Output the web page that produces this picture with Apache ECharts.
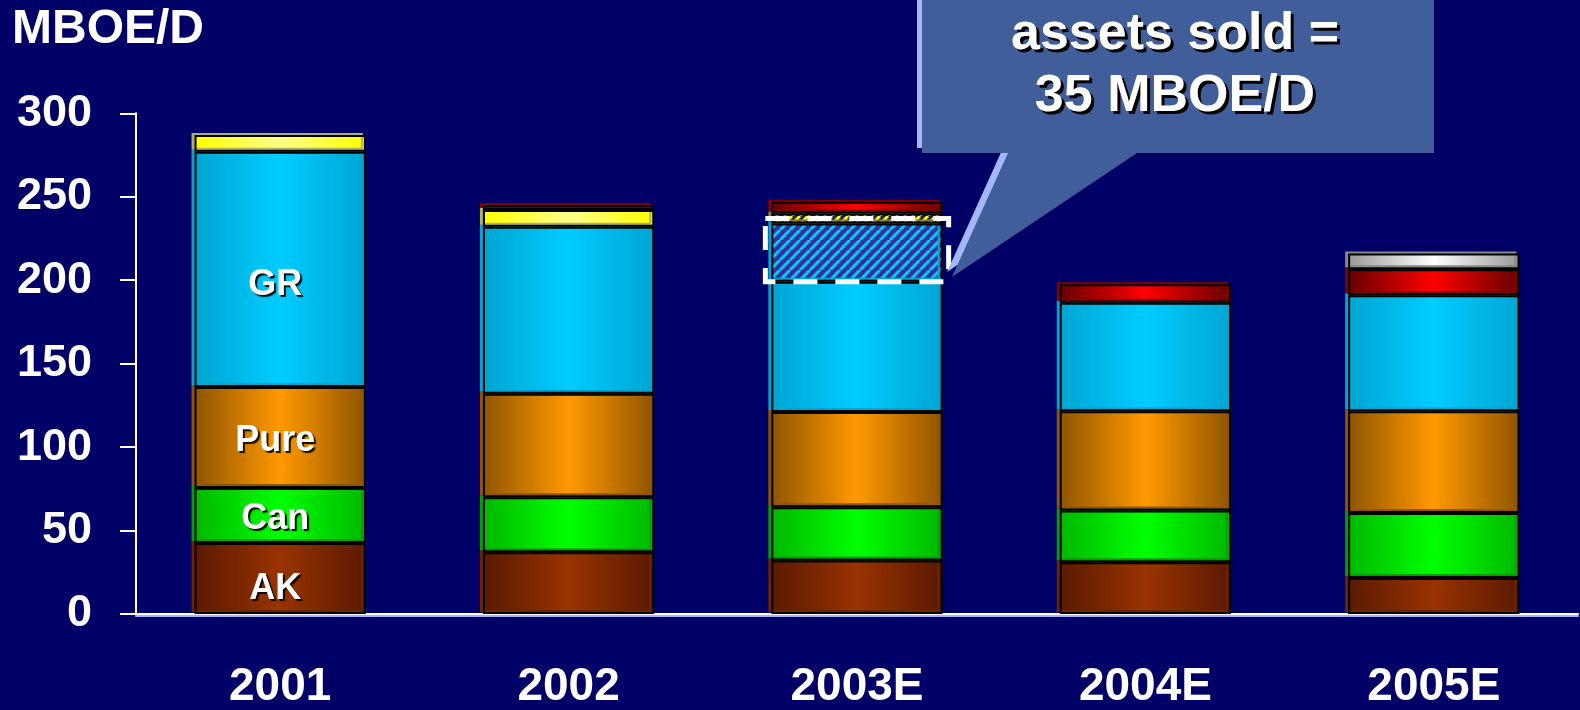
<!DOCTYPE html>
<html>
<head>
<meta charset="utf-8">
<script src="https://cdn.jsdelivr.net/npm/echarts@6/dist/echarts.min.js"></script>
<style>
  html, body { margin: 0; padding: 0; background: #000066; }
  #chart { width: 1580px; height: 710px; }
</style>
</head>
<body>
<div id="chart"></div>
<script>
// Production by region, MBOE/D
const years = ['2001', '2002', '2003E', '2004E', '2005E'];
const ak         = [42.5, 37, 32, 31, 21.5];
const can        = [33, 33, 32, 31, 39];
const pure       = [60.5, 62, 57, 59.5, 61];
const gr         = [141, 100, 78, 65, 69.5];
const grSold     = [null, null, 35, null, null];
const yellow     = [10, 10, null, null, null];
const yellowSold = [null, null, 6, null, null];
const red        = [null, 3, 7, 11, 15.5];
const grey       = [null, null, null, null, 9.5];
const yMin = 0, yMax = 300, yStep = 50;
const unitName = 'MBOE/D';

const FONT = '"Liberation Sans", Arial, sans-serif';

function shade(edge, mid) {
  return { type: 'linear', x: 0, y: 0, x2: 1, y2: 0,
    colorStops: [ { offset: 0, color: edge }, { offset: 0.5, color: mid }, { offset: 1, color: edge } ] };
}

function stripes(bg, fg, period, lw) {
  const c = document.createElement('canvas');
  c.width = c.height = period;
  const g = c.getContext('2d');
  g.fillStyle = bg; g.fillRect(0, 0, period, period);
  g.strokeStyle = fg; g.lineWidth = lw;
  for (const o of [-period, 0, period]) {
    g.beginPath(); g.moveTo(o, period); g.lineTo(o + period, 0); g.stroke();
  }
  return { image: c, repeat: 'repeat' };
}

function segLabel(dy) {
  return {
    show: true, position: 'inside', offset: [-5, dy],
    color: '#fff', fontFamily: FONT, fontWeight: 'bold', fontSize: 36,
    textShadowColor: 'rgba(0,0,0,0.9)', textShadowOffsetX: 2, textShadowOffsetY: 2, textShadowBlur: 1,
    formatter: p => (p.dataIndex === 0 ? p.seriesName : '')
  };
}

function seg(name, values, fill, shadowCol, label) {
  return {
    name, type: 'bar', stack: 'total', barWidth: '59.4%',
    data: values.map(v => (v === null ? '-' : v)),
    itemStyle: { color: fill, borderColor: '#000', borderWidth: 2,
      shadowColor: shadowCol, shadowOffsetX: -3, shadowOffsetY: -2, shadowBlur: 0 },
    label: label || { show: false },
    emphasis: { disabled: true },
    animation: false
  };
}

const soldIdx = 2;
const soldBase = ak[soldIdx] + can[soldIdx] + pure[soldIdx] + gr[soldIdx];
const soldTop = soldBase + grSold[soldIdx] + yellowSold[soldIdx] / 2;

// callout text, with a dark drop copy underneath
const calloutLines = ['assets sold =', grSold[soldIdx] + ' ' + unitName];
const calloutText = [];
calloutLines.forEach((t, i) => {
  const y = 35 + i * 62;
  [[3, 3, '#000', 102], [0, 0, '#fff', 103]].forEach(([dx, dy, col, z]) => {
    calloutText.push({
      type: 'text', z, silent: true, x: 1175 + dx, y: y + dy,
      style: { text: t, fill: col, font: 'bold 52px ' + FONT, align: 'center', verticalAlign: 'middle' }
    });
  });
});

const chart = echarts.init(document.getElementById('chart'));
chart.setOption({
  backgroundColor: '#000066',
  animation: false,
  title: {
    text: unitName, left: 12, top: 6, padding: 0,
    textStyle: { color: '#fff', fontFamily: FONT, fontWeight: 'bold', fontSize: 48 }
  },
  grid: { left: 136, right: 2, top: 113.3, bottom: 95, containLabel: false },
  xAxis: {
    type: 'category', data: years,
    axisLine: { lineStyle: { color: '#fff', width: 2, shadowColor: '#aab0ff', shadowOffsetY: 2 } },
    axisTick: { show: false },
    axisLabel: { color: '#fff', fontFamily: FONT, fontWeight: 'bold', fontSize: 46, margin: 50 }
  },
  yAxis: {
    type: 'value', min: yMin, max: yMax, interval: yStep,
    axisLine: { show: true, lineStyle: { color: '#fff', width: 2 } },
    axisTick: { show: true, length: 16, lineStyle: { color: '#fff', width: 2 } },
    splitLine: { show: false },
    axisLabel: { color: '#fff', fontFamily: FONT, fontWeight: 'bold', fontSize: 45, margin: 44 }
  },
  series: [
    seg('AK', ak, shade('#5a1a00', '#993300'), '#6a2400', segLabel(11)),
    seg('Can', can, shade('#00b800', '#00ff00'), '#00a000', segLabel(4)),
    seg('Pure', pure, shade('#8f5500', '#ff9900'), '#8f5500', segLabel(4)),
    seg('GR', gr, shade('#00a5d2', '#00ccff'), '#00a5d2', segLabel(16)),
    seg('GR sold', grSold, stripes('#333399', '#00ccff', 10, 3), '#00a5d2'),
    seg('Yellow', yellow, shade('#ffff00', '#ffff88'), '#b0b060'),
    seg('Yellow sold', yellowSold, stripes('#222244', '#ffff00', 8, 3), '#808040'),
    seg('Red', red, shade('#660000', '#ff0000'), '#800000'),
    seg('Grey', grey, shade('#999999', '#ffffff'), '#888888'),
    {
      type: 'custom', z: 5, silent: true, animation: false,
      data: [[soldIdx, soldBase, soldTop]],
      encode: { x: 0, y: [1, 2] },
      renderItem: (params, api) => {
        const x = api.value(0);
        const p0 = api.coord([x, api.value(1)]);
        const p1 = api.coord([x, api.value(2)]);
        const bw = api.size([1, 0])[0] * 0.594;
        return {
          type: 'rect',
          shape: { x: p0[0] - bw / 2 - 6, y: p1[1], width: bw + 12, height: p0[1] - p1[1] },
          style: { fill: 'none', stroke: '#fff', lineWidth: 5, lineDash: [24, 18] }
        };
      }
    }
  ],
  graphic: [
    {
      type: 'polygon', z: 100, silent: true,
      shape: { points: [[917, -10], [1429, -10], [1429, 148], [1132, 148], [947, 272], [1003, 148], [917, 148]] },
      style: { fill: '#a3b9ff' }
    },
    {
      type: 'polygon', z: 101, silent: true,
      shape: { points: [[922, -5], [1434, -5], [1434, 153], [1137, 153], [952, 277], [1008, 153], [922, 153]] },
      style: { fill: '#405e99' }
    }
  ].concat(calloutText)
});
</script>
</body>
</html>
